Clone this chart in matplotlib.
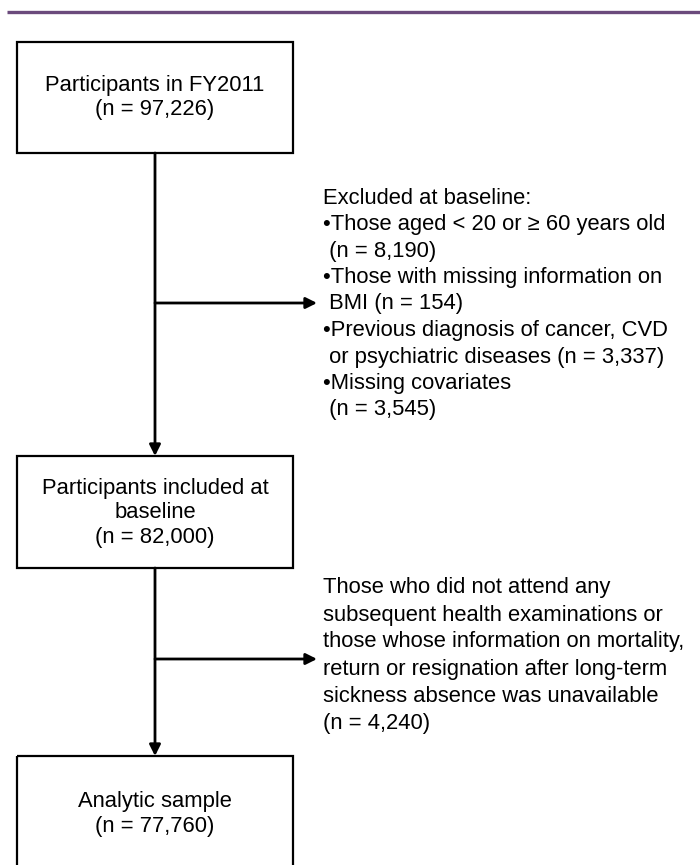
import matplotlib
matplotlib.use("Agg")
import matplotlib.pyplot as plt
from matplotlib.patches import Rectangle

plt.rcParams['font.family'] = ['Liberation Sans', 'DejaVu Sans']

# flow boxes (text lines)
box_lines = [
    ["Participants in FY2011", "(n = 97,226)"],
    ["Participants included at", "baseline", "(n = 82,000)"],
    ["Analytic sample", "(n = 77,760)"],
]

# exclusion notes
excl1_lines = [
    "Excluded at baseline:",
    "\u2022Those aged < 20 or \u2265 60 years old",
    " (n = 8,190)",
    "\u2022Those with missing information on",
    " BMI (n = 154)",
    "\u2022Previous diagnosis of cancer, CVD",
    " or psychiatric diseases (n = 3,337)",
    "\u2022Missing covariates",
    " (n = 3,545)",
]
excl2_lines = [
    "Those who did not attend any",
    "subsequent health examinations or",
    "those whose information on mortality,",
    "return or resignation after long-term",
    "sickness absence was unavailable",
    "(n = 4,240)",
]

# layout in pixels
W, H = 700, 865
box_x0, box_x1 = 17, 293
box_tb = [(42, 153), (456, 568), (756, 890)]
cx = 155
fs = 15.8

fig = plt.figure(figsize=(W / 100, H / 100), dpi=100)
ax = fig.add_axes([0, 0, 1, 1])
ax.set_xlim(0, W)
ax.set_ylim(H, 0)
ax.axis('off')

# purple rule at top
ax.plot([7, 700], [12, 12], color='#6b4a7c', lw=2.4, solid_capstyle='butt')

box_mid = [97.5, 513, 814]
for (top, bot), mid, lines in zip(box_tb, box_mid, box_lines):
    ax.add_patch(Rectangle((box_x0, top), box_x1 - box_x0, bot - top,
                           fill=False, ec='black', lw=1.6))
    n = len(lines)
    for i, s in enumerate(lines):
        y = mid + (i - (n - 1) / 2) * 24.5
        ax.text(cx, y, s, ha='center', va='center', fontsize=fs)

arrow_kw = dict(arrowstyle='-|>,head_length=0.6,head_width=0.3',
                color='black', lw=2.0, shrinkA=0, shrinkB=0, mutation_scale=11)

# vertical connectors
ax.annotate('', xy=(cx, box_tb[1][0]), xytext=(cx, box_tb[0][1]), arrowprops=arrow_kw)
ax.annotate('', xy=(cx, box_tb[2][0]), xytext=(cx, box_tb[1][1]), arrowprops=arrow_kw)

# side arrows
ax.annotate('', xy=(317, 303), xytext=(cx, 303), arrowprops=arrow_kw)
ax.annotate('', xy=(317, 659), xytext=(cx, 659), arrowprops=arrow_kw)

for i, s in enumerate(excl1_lines):
    ax.text(323, 198 + i * 26.5, s, ha='left', va='center', fontsize=fs)
for i, s in enumerate(excl2_lines):
    ax.text(323, 588 + i * 27, s, ha='left', va='center', fontsize=fs)

fig.savefig('out.png', dpi=100, facecolor='white')
